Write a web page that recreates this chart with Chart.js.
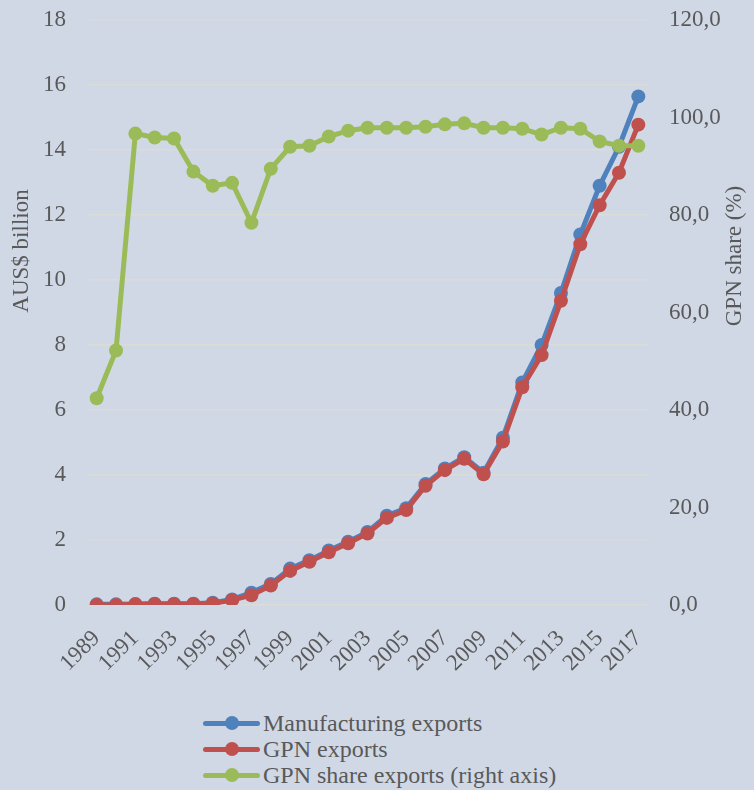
<!DOCTYPE html>
<html>
<head>
<meta charset="utf-8">
<script src="https://cdn.jsdelivr.net/npm/chart.js@4/dist/chart.umd.min.js"></script>
<style>
  html, body { margin: 0; padding: 0; background: #d0d8e6; }
  #wrap { position: relative; width: 754px; height: 790px; }
  #legend { position: absolute; left: 203px; top: 710px; font-family: "Liberation Serif", serif; font-size: 24px; color: #595959; }
  .item { display: flex; align-items: center; height: 26px; }
  .mark { position: relative; width: 57px; height: 14px; margin-right: 3px; }
  .mark .ln { position: absolute; left: 0; right: 0; top: 5px; height: 5px; border-radius: 3px; }
  .mark .dot { position: absolute; left: 22px; top: 0; width: 14px; height: 14px; border-radius: 50%; }
</style>
</head>
<body>
<div id="wrap">
  <canvas id="chart" width="754" height="700"></canvas>
  <div id="legend"></div>
</div>
<script>
const years = [1989, 1990, 1991, 1992, 1993, 1994, 1995, 1996, 1997, 1998, 1999, 2000, 2001, 2002,
  2003, 2004, 2005, 2006, 2007, 2008, 2009, 2010, 2011, 2012, 2013, 2014, 2015, 2016, 2017];

const manufacturingExports = [0.02, 0.02, 0.03, 0.04, 0.04, 0.04, 0.07, 0.17, 0.38, 0.65, 1.12, 1.38, 1.68, 1.95,
  2.25, 2.75, 2.98, 3.72, 4.2, 4.55, 4.07, 5.15, 6.85, 8.0, 9.6, 11.4, 12.9, 14.1, 15.65];

const gpnExports = [0.0, 0.0, 0.02, 0.03, 0.03, 0.03, 0.05, 0.15, 0.3, 0.6, 1.05, 1.33, 1.62, 1.9,
  2.2, 2.68, 2.92, 3.67, 4.15, 4.5, 4.02, 5.03, 6.7, 7.69, 9.36, 11.1, 12.3, 13.3, 14.78];

const gpnShare = [42.4, 52.2, 96.7, 95.9, 95.7, 88.9, 86.0, 86.6, 78.4, 89.5, 94.0, 94.2, 96.1, 97.3,
  97.9, 97.9, 97.9, 98.1, 98.6, 98.8, 97.9, 97.9, 97.7, 96.5, 97.9, 97.7, 95.1, 94.2, 94.2];

const leftTitle = "AUS$ billion";
const rightTitle = "GPN share (%)";

const textColor = "#595959";
const font = { family: "'Liberation Serif', serif", size: 23 };

function series(label, data, color, axis, order) {
  return {
    label, data, yAxisID: axis, order,
    borderColor: color, backgroundColor: color,
    borderWidth: 5, pointRadius: 7, pointBorderWidth: 0,
    pointBackgroundColor: color, tension: 0
  };
}

// axis titles sit higher than the scale centre in the original, so draw them by hand
const axisTitles = {
  id: "axisTitles",
  afterDraw(chart) {
    const ctx = chart.ctx;
    const spots = [[leftTitle, 22, 251], [rightTitle, 735, 256]];
    for (const [text, x, y] of spots) {
      ctx.save();
      ctx.fillStyle = textColor;
      ctx.font = "23px 'Liberation Serif', serif";
      ctx.textAlign = "center";
      ctx.textBaseline = "middle";
      ctx.translate(x, y);
      ctx.rotate(-Math.PI / 2);
      ctx.fillText(text, 0, 0);
      ctx.restore();
    }
  }
};

function fitY(width) {
  return s => {
    s.width = width;
    s.paddingTop = 0;
    s.paddingBottom = 0;
  };
}

const datasets = [
  series("Manufacturing exports", manufacturingExports, "#4f81bd", "y", 2),
  series("GPN exports", gpnExports, "#c0504d", "y", 1),
  series("GPN share exports (right axis)", gpnShare, "#9bbb59", "y1", 0)
];

new Chart(document.getElementById("chart"), {
  type: "line",
  data: { labels: years, datasets },
  options: {
    responsive: false,
    animation: false,
    layout: { padding: { top: 20 } },
    plugins: { legend: { display: false }, tooltip: { enabled: false } },
    scales: {
      x: {
        offset: true,
        grid: { display: false, drawTicks: false },
        border: { display: false },
        afterFit(s) { s.height = 95; s.paddingLeft = 0; s.paddingRight = 0; },
        ticks: {
          autoSkip: false, maxRotation: 45, minRotation: 45, padding: 20,
          color: textColor, font,
          callback(v, i) { return i % 2 === 0 ? years[i] : ""; }
        }
      },
      y: {
        position: "left", min: 0, max: 18,
        afterFit: fitY(87),
        grid: { color: "#dcdcd6", lineWidth: 1.5, drawTicks: false },
        border: { display: false },
        ticks: { stepSize: 2, padding: 21, color: textColor, font }
      },
      y1: {
        position: "right", min: 0, max: 120,
        afterFit: fitY(106),
        grid: { display: false, drawTicks: false },
        border: { display: false },
        ticks: {
          stepSize: 20, padding: 21, color: textColor, font,
          callback(v) { return v.toFixed(1).replace(".", ","); }
        }
      }
    }
  },
  plugins: [axisTitles]
});

// legend stacked one per line, like the original
const legend = document.getElementById("legend");
for (const ds of datasets) {
  const item = document.createElement("div");
  item.className = "item";
  item.innerHTML = `<span class="mark"><span class="ln" style="background:${ds.borderColor}"></span>` +
    `<span class="dot" style="background:${ds.borderColor}"></span></span><span>${ds.label}</span>`;
  legend.appendChild(item);
}
</script>
</body>
</html>
